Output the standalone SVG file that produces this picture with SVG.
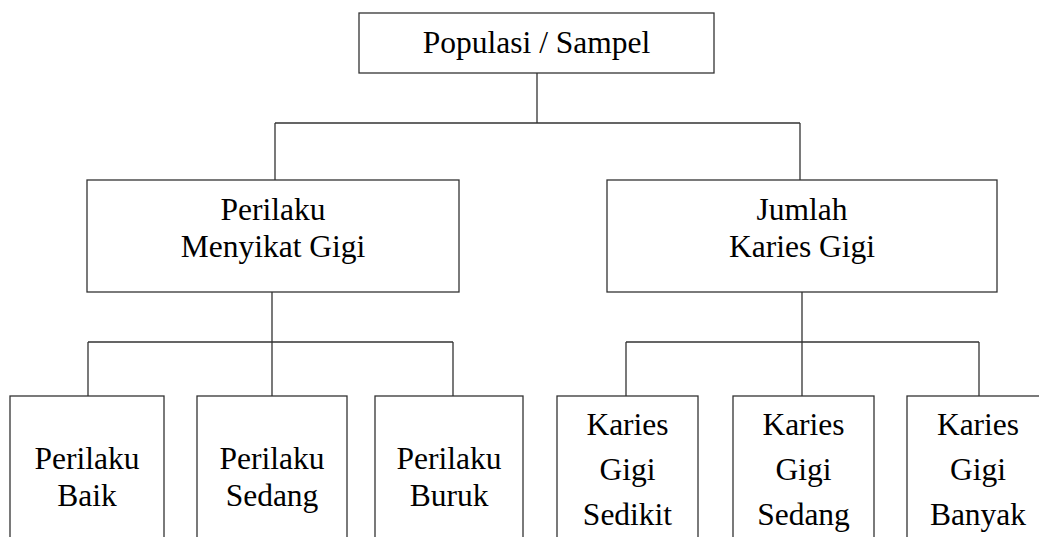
<svg xmlns="http://www.w3.org/2000/svg" width="1039" height="537" viewBox="0 0 1039 537">
<rect width="1039" height="537" fill="#fff"/>
<g id="connectors" fill="none" stroke="#333" stroke-width="1.3">
<path d="M537 73V123M275 123H800M275 123V180M800 123V180"/>
<path d="M272 292V342M88 342H453M88 342V396M272 342V396M453 342V396"/>
<path d="M802 292V342M626 342H979M626 342V396M802 342V396M979 342V396"/>
</g>
<g id="populasi">
<rect x="359" y="13" width="355" height="60" fill="#fff" stroke="#333" stroke-width="1.3"/>
<text font-family="Liberation Serif" font-size="31.5" text-anchor="middle" x="536.5" y="53"><tspan style="font-family:'Liberation Serif',serif">Populasi / Sampel</tspan></text>
</g>
<g id="perilaku">
<rect x="87" y="180" width="372" height="112" fill="#fff" stroke="#333" stroke-width="1.3"/>
<text font-family="Liberation Serif" font-size="31.5" text-anchor="middle" x="273" y="220"><tspan style="font-family:'Liberation Serif',serif">Perilaku</tspan></text>
<text font-family="Liberation Serif" font-size="31.5" text-anchor="middle" x="273" y="257"><tspan style="font-family:'Liberation Serif',serif">Menyikat Gigi</tspan></text>
</g>
<g id="jumlah">
<rect x="607" y="180" width="390" height="112" fill="#fff" stroke="#333" stroke-width="1.3"/>
<text font-family="Liberation Serif" font-size="31.5" text-anchor="middle" x="802" y="220"><tspan style="font-family:'Liberation Serif',serif">Jumlah</tspan></text>
<text font-family="Liberation Serif" font-size="31.5" text-anchor="middle" x="802" y="257"><tspan style="font-family:'Liberation Serif',serif">Karies Gigi</tspan></text>
</g>
<g id="baik">
<rect x="10" y="396" width="154" height="170" fill="#fff" stroke="#333" stroke-width="1.3"/>
<text font-family="Liberation Serif" font-size="31.5" text-anchor="middle" x="87" y="469"><tspan style="font-family:'Liberation Serif',serif">Perilaku</tspan></text>
<text font-family="Liberation Serif" font-size="31.5" text-anchor="middle" x="87" y="506"><tspan style="font-family:'Liberation Serif',serif">Baik</tspan></text>
</g>
<g id="sedang">
<rect x="197" y="396" width="150" height="170" fill="#fff" stroke="#333" stroke-width="1.3"/>
<text font-family="Liberation Serif" font-size="31.5" text-anchor="middle" x="272" y="469"><tspan style="font-family:'Liberation Serif',serif">Perilaku</tspan></text>
<text font-family="Liberation Serif" font-size="31.5" text-anchor="middle" x="272" y="506"><tspan style="font-family:'Liberation Serif',serif">Sedang</tspan></text>
</g>
<g id="buruk">
<rect x="375" y="396" width="148" height="170" fill="#fff" stroke="#333" stroke-width="1.3"/>
<text font-family="Liberation Serif" font-size="31.5" text-anchor="middle" x="449" y="469"><tspan style="font-family:'Liberation Serif',serif">Perilaku</tspan></text>
<text font-family="Liberation Serif" font-size="31.5" text-anchor="middle" x="449" y="506"><tspan style="font-family:'Liberation Serif',serif">Buruk</tspan></text>
</g>
<g id="sedikit">
<rect x="557" y="396" width="141" height="170" fill="#fff" stroke="#333" stroke-width="1.3"/>
<text font-family="Liberation Serif" font-size="31.5" text-anchor="middle" x="627.5" y="435"><tspan style="font-family:'Liberation Serif',serif">Karies</tspan></text>
<text font-family="Liberation Serif" font-size="31.5" text-anchor="middle" x="627.5" y="480"><tspan style="font-family:'Liberation Serif',serif">Gigi</tspan></text>
<text font-family="Liberation Serif" font-size="31.5" text-anchor="middle" x="627.5" y="525"><tspan style="font-family:'Liberation Serif',serif">Sedikit</tspan></text>
</g>
<g id="karies-sedang">
<rect x="733" y="396" width="141" height="170" fill="#fff" stroke="#333" stroke-width="1.3"/>
<text font-family="Liberation Serif" font-size="31.5" text-anchor="middle" x="803.5" y="435"><tspan style="font-family:'Liberation Serif',serif">Karies</tspan></text>
<text font-family="Liberation Serif" font-size="31.5" text-anchor="middle" x="803.5" y="480"><tspan style="font-family:'Liberation Serif',serif">Gigi</tspan></text>
<text font-family="Liberation Serif" font-size="31.5" text-anchor="middle" x="803.5" y="525"><tspan style="font-family:'Liberation Serif',serif">Sedang</tspan></text>
</g>
<g id="banyak">
<rect x="907" y="396" width="142" height="170" fill="#fff" stroke="#333" stroke-width="1.3"/>
<text font-family="Liberation Serif" font-size="31.5" text-anchor="middle" x="978" y="435"><tspan style="font-family:'Liberation Serif',serif">Karies</tspan></text>
<text font-family="Liberation Serif" font-size="31.5" text-anchor="middle" x="978" y="480"><tspan style="font-family:'Liberation Serif',serif">Gigi</tspan></text>
<text font-family="Liberation Serif" font-size="31.5" text-anchor="middle" x="978" y="525"><tspan style="font-family:'Liberation Serif',serif">Banyak</tspan></text>
</g>
</svg>
